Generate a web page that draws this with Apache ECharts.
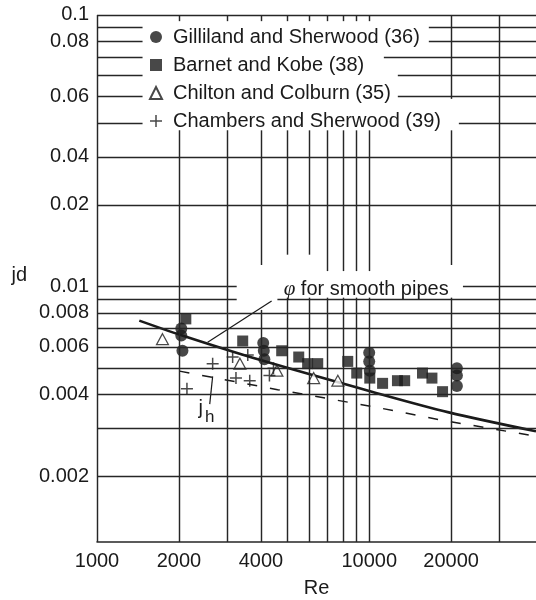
<!DOCTYPE html>
<html><head><meta charset="utf-8">
<script src="https://cdn.jsdelivr.net/npm/echarts@6/dist/echarts.min.js"></script>
<style>html,body{margin:0;padding:0;background:#fff}#c{width:536px;height:600px}</style>
</head><body><div id="c"></div>
<script>
// ---------------- data ----------------
const gillilandRe = [2040, 2040, 2060, 4080, 4100, 4120, 10000, 10000, 10050, 21000, 21000, 21000];
const gillilandJd = [0.0070, 0.0066, 0.0058, 0.0062, 0.0058, 0.0054, 0.0057, 0.0053, 0.0049, 0.0050, 0.0047, 0.0043];

const barnetRe = [2120, 3430, 4770, 5510, 5940, 6470, 8340, 9000, 10050, 11200, 12700, 13500, 15700, 17000, 18600];
const barnetJd = [0.0076, 0.0063, 0.0058, 0.0055, 0.0052, 0.0052, 0.0053, 0.0048, 0.0046, 0.0044, 0.0045, 0.0045, 0.0048, 0.0046, 0.0041];

const chiltonRe = [1740, 3350, 4580, 6250, 7670];
const chiltonJd = [0.0064, 0.0052, 0.0049, 0.0046, 0.0045];

const chambersRe = [2140, 2660, 3150, 3580, 3240, 3640, 4300, 4450];
const chambersJd = [0.0042, 0.0052, 0.0055, 0.0056, 0.0046, 0.0045, 0.0047, 0.0050];

// phi for smooth pipes (solid curve)
const phiRe = [1430, 2030, 3960, 10300, 19600, 41000];
const phiJd = [0.00749, 0.00663, 0.00537, 0.00409, 0.00344, 0.00293];

// j_h (dashed line)
const jhRe = [2010, 4610, 10200, 18800, 41000];
const jhJd = [0.00488, 0.00417, 0.00362, 0.00321, 0.00281];

const seriesNames = ['Gilliland and Sherwood (36)', 'Barnet and Kobe (38)', 'Chilton and Colburn (35)', 'Chambers and Sherwood (39)'];

// tick labels as printed on the figure
const xTickValues = [1000, 2000, 4000, 10000, 20000];
const xTickLabels = ['1000', '2000', '4000', '10000', '20000'];
const yTickValues = [0.1, 0.08, 0.05, 0.03, 0.02, 0.01, 0.008, 0.006, 0.004, 0.002];
const yTickLabels = ['0.1', '0.08', '0.06', '0.04', '0.02', '0.01', '0.008', '0.006', '0.004', '0.002'];

// annotation pointers
const phiPointerRe = [4380, 2550];
const phiPointerJd = [0.00885, 0.00623];
const jhPointerRe = [2660, 2595];
const jhPointerJd = [0.00467, 0.00369];

// ---------------- axes / grid layout ----------------
const X_MIN = 1000, X_MAX = 41000;
const Y_MIN = 0.001146, Y_MAX = 0.1052, Y_TOP = 0.1;
const FONT = "'Liberation Sans', Arial, Helvetica, sans-serif";
const INK = '#1a1a1a';
const GRID = '#262626';

// horizontal grid lines: [value, [[xFrom, xTo], ...]]
const hLines = [
  [0.1,   [[X_MIN, X_MAX]]],
  [0.09,  [[X_MIN, 1470], [16560, X_MAX]]],
  [0.08,  [[X_MIN, 1470], [16560, X_MAX]]],
  [0.07,  [[X_MIN, 1470], [11320, X_MAX]]],
  [0.06,  [[X_MIN, 1470], [12740, X_MAX]]],
  [0.05,  [[X_MIN, 1470], [12740, X_MAX]]],
  [0.04,  [[X_MIN, 1470], [21350, X_MAX]]],
  [0.03,  [[X_MIN, X_MAX]]],
  [0.02,  [[X_MIN, X_MAX]]],
  [0.01,  [[X_MIN, 3260], [22100, X_MAX]]],
  [0.009, [[X_MIN, 3260], [4600, X_MAX]]],
  [0.008, [[X_MIN, X_MAX]]],
  [0.007, [[X_MIN, X_MAX]]],
  [0.006, [[X_MIN, X_MAX]]],
  [0.005, [[X_MIN, X_MAX]]],
  [0.004, [[X_MIN, X_MAX]]],
  [0.003, [[X_MIN, X_MAX]]],
  [0.002, [[X_MIN, X_MAX]]]
];
// vertical grid lines: [value, [[yFrom, yTo], ...]]
const vLines = [
  [X_MIN, [[Y_TOP, Y_MIN]]],
  [2000,  [[Y_TOP, 0.0949], [0.0376, Y_MIN]]],
  [3000,  [[Y_TOP, 0.0949], [0.0376, Y_MIN]]],
  [4000,  [[Y_TOP, 0.0949], [0.0376, 0.0120], [0.0082, Y_MIN]]],
  [5000,  [[Y_TOP, 0.0949], [0.0376, 0.0131], [0.0091, Y_MIN]]],
  [6000,  [[Y_TOP, 0.0949], [0.0376, 0.0131], [0.0091, Y_MIN]]],
  [7000,  [[Y_TOP, 0.0949], [0.0376, 0.0114], [0.0091, Y_MIN]]],
  [8000,  [[Y_TOP, 0.0949], [0.0376, 0.0114], [0.0091, Y_MIN]]],
  [9000,  [[Y_TOP, 0.0949], [0.0376, 0.0114], [0.0091, Y_MIN]]],
  [10000, [[Y_TOP, 0.0949], [0.0376, 0.0114], [0.0091, Y_MIN]]],
  [20000, [[Y_TOP, 0.0491], [0.0376, 0.0120], [0.0091, Y_MIN]]],
  [30000, [[Y_TOP, Y_MIN]]]
];

const zip = (a, b) => a.map((v, i) => [v, b[i]]);

const gridSegs = [];
hLines.forEach(([y, parts]) => parts.forEach(([a, b]) => gridSegs.push([{coord: [a, y]}, {coord: [b, y]}])));
vLines.forEach(([x, parts]) => parts.forEach(([a, b]) => gridSegs.push([{coord: [x, a]}, {coord: [x, b]}])));

const PLUS = 'path://M7,0h2v7h7v2h-7v7h-2v-7h-7v-2h7z';

const labelBase = {show: true, color: INK, fontSize: 20, fontFamily: FONT, formatter: p => p.name};

const chart = echarts.init(document.getElementById('c'));
chart.setOption({
  animation: false,
  backgroundColor: '#fff',
  textStyle: {fontFamily: FONT, color: INK},
  grid: {left: 97, top: 9, right: 0, bottom: 58, containLabel: false, outerBoundsMode: 'none'},
  xAxis: {
    type: 'log', logBase: 10, min: X_MIN, max: X_MAX,
    name: 'Re', nameLocation: 'middle', nameGap: 36,
    nameTextStyle: {fontSize: 20, color: INK, fontFamily: FONT},
    axisLine: {show: true, lineStyle: {color: GRID, width: 1.5}},
    axisTick: {show: false}, axisLabel: {show: false},
    splitLine: {show: false}, minorSplitLine: {show: false}
  },
  yAxis: {
    type: 'log', logBase: 10, min: Y_MIN, max: Y_MAX,
    name: 'jd', nameLocation: 'middle', nameGap: 70, nameRotate: 0,
    nameTextStyle: {fontSize: 20, color: INK, fontFamily: FONT},
    axisLine: {show: false},
    axisTick: {show: false}, axisLabel: {show: false},
    splitLine: {show: false}, minorSplitLine: {show: false}
  },
  legend: {
    data: seriesNames, orient: 'vertical', left: 149, top: 27, padding: 0,
    itemWidth: 12, itemHeight: 12, itemGap: 8, selectedMode: false,
    textStyle: {fontSize: 20, lineHeight: 20, color: INK, fontFamily: FONT, padding: [0, 0, 0, 6]}
  },
  series: [
    {
      type: 'line', name: '_grid', data: [], silent: true, z: 1,
      markLine: {
        silent: true, symbol: ['none', 'none'], animation: false,
        label: {show: false}, emphasis: {disabled: true},
        lineStyle: {color: GRID, width: 1.45, type: 'solid'},
        data: gridSegs
      },
      markPoint: {
        silent: true, symbol: 'circle', symbolSize: 0, animation: false,
        itemStyle: {color: 'rgba(0,0,0,0)'},
        data: yTickValues.map((v, i) => ({name: yTickLabels[i], coord: [X_MIN, v],
          label: Object.assign({}, labelBase, {position: 'left', distance: 8})}))
          .concat(xTickValues.map((v, i) => ({name: xTickLabels[i], coord: [v, Y_MIN],
          label: Object.assign({}, labelBase, {position: 'bottom', distance: 9})})))
          .concat([
            {name: '{p|\u03c6} for smooth pipes', coord: [4850, 0.00979],
             label: Object.assign({}, labelBase, {position: 'right', distance: 0,
               rich: {p: {fontFamily: "'Liberation Serif', 'DejaVu Serif', serif", fontStyle: 'italic', fontSize: 21, color: INK}}})},
            {name: 'j', coord: [2404, 0.00357], label: Object.assign({}, labelBase, {position: 'inside'})},
            {name: 'h', coord: [2594, 0.00329], label: Object.assign({}, labelBase, {position: 'inside', fontSize: 17})}
          ])
      }
    },
    {
      type: 'line', name: '_phi', data: zip(phiRe, phiJd), smooth: 0.3, symbol: 'none', silent: true, z: 3,
      lineStyle: {color: INK, width: 2.6}
    },
    {
      type: 'line', name: '_jh', data: zip(jhRe, jhJd), symbol: 'none', silent: true, z: 3,
      lineStyle: {color: INK, width: 1.5, type: [10, 13]}
    },
    {
      type: 'line', name: '_phiPtr', data: zip(phiPointerRe, phiPointerJd), symbol: 'none', silent: true, z: 3,
      lineStyle: {color: INK, width: 1.2}
    },
    {
      type: 'line', name: '_jhPtr', data: zip(jhPointerRe, jhPointerJd), symbol: 'none', silent: true, z: 3,
      lineStyle: {color: INK, width: 1.2}
    },
    {
      type: 'scatter', name: seriesNames[0], data: zip(gillilandRe, gillilandJd), z: 4,
      symbol: 'circle', symbolSize: 12, itemStyle: {color: INK}
    },
    {
      type: 'scatter', name: seriesNames[1], data: zip(barnetRe, barnetJd), z: 4,
      symbol: 'rect', symbolSize: 11, itemStyle: {color: INK}
    },
    {
      type: 'scatter', name: seriesNames[2], data: zip(chiltonRe, chiltonJd), z: 4,
      symbol: 'triangle', symbolSize: [12, 11], itemStyle: {color: '#fff', borderColor: INK, borderWidth: 1.2}
    },
    {
      type: 'scatter', name: seriesNames[3], data: zip(chambersRe, chambersJd), z: 4,
      symbol: PLUS, symbolSize: 12, itemStyle: {color: INK}
    }
  ]
});
</script>
</body></html>
